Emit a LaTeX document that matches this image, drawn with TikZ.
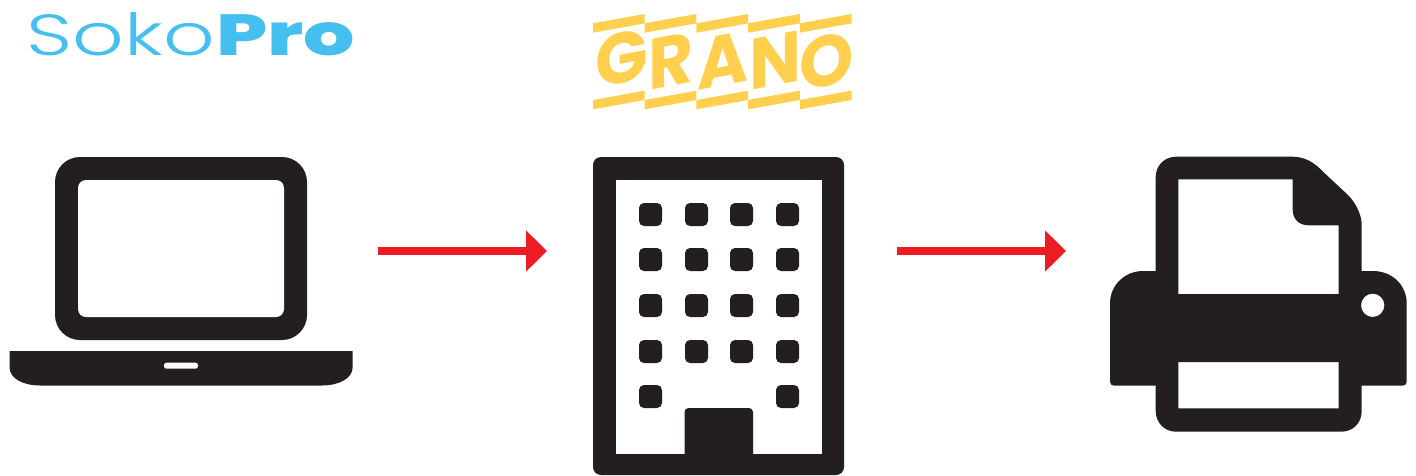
\documentclass[tikz,border=0pt]{standalone}
\usepackage{fontspec}
\usetikzlibrary{arrows.meta}
\newfontfamily\sokolight[FakeStretch=1.39]{Poppins Light}
\newfontfamily\sokobold[FakeStretch=1.39]{Poppins ExtraBold}
\newfontfamily\granofont[FakeStretch=.96]{Poppins Bold}
\definecolor{ink}{HTML}{231F20}
\definecolor{flowred}{HTML}{ED1C24}
\definecolor{sokoblue}{HTML}{44BFEF}
\definecolor{granoyellow}{HTML}{FFCF4D}
\tikzset{
  icon/.style={fill=ink,draw=none,even odd rule},
  win/.style={fill=ink,draw=none,rounded corners=5pt},
  band/.style={fill=granoyellow,draw=none},
  flow/.style={draw=flowred,line width=8pt,-{Triangle[length=21pt,width=40pt,fill=flowred]}},
  letter/.style={text=granoyellow,inner sep=0pt,anchor=base west,transform shape,
    font=\granofont\fontsize{72}{72}\selectfont},
}
\begin{document}
\begin{tikzpicture}[x=1pt,y=-1pt]
\useasboundingbox (0,0) rectangle (1416,475);
% SokoPro
\node[inner sep=0pt,anchor=base west,text=sokoblue] (soko) at (26.5,55)
  {{\sokolight\fontsize{58}{58}\selectfont Soko}\hspace{1pt}{\sokobold\fontsize{58}{58}\selectfont Pro}};
% Grano bands
\foreach \i in {0,1,2,3,4}{
  \fill[band,shift={(593+51.7*\i,0)}] (0,23.3) -- (51.7,14) -- (51.7,23.3) -- (0,32.7) -- cycle;
  \fill[band,shift={(593+51.7*\i,0)}] (0,100) -- (51.7,90.7) -- (51.7,100) -- (0,109.3) -- cycle;
}
% Grano letters
\node[letter,cm={1,.19,0,1,(595,89)}] (g1) {G};
\node[letter,cm={1,.19,0,1,(648,91)}] (g2) {R};
\node[letter,cm={1,.19,0,1,(697,91)}] (g3) {A};
\node[letter,cm={1,.19,0,1,(749,91)}] (g4) {N};
\node[letter,cm={1,.19,0,1,(799,91.5)}] (g5) {O};
% Laptop
\fill[icon,rounded corners=25pt] (55,157) rectangle (307,340);
\fill[white,rounded corners=8pt] (78,180) rectangle (284,317);
\fill[icon] (9.5,351) -- (352.7,351) -- (352.7,367)
  .. controls (352.7,379) and (338,385.5) .. (322,385.5) -- (40,385.5)
  .. controls (24,385.5) and (9.5,379) .. (9.5,367) -- cycle;
\fill[white,rounded corners=2.5pt] (164,362.7) rectangle (198,368.7);
% Building
\fill[icon,rounded corners=8pt] (593,157) rectangle (844,475);
\fill[white] (616,180) rectangle (822,454);
\fill[icon,rounded corners=4pt] (684.5,462) -- (684.5,408) -- (753,408) -- (753,462) -- cycle;
\foreach \y in {203,248,294,340}
  \foreach \x in {639,685,730,776}
    \fill[win] (\x,\y) rectangle +(23,23);
\fill[win] (639,385) rectangle +(23,23);
\fill[win] (776,385) rectangle +(23,23);
% Printer
\fill[icon] (1155.7,177)
  .. controls (1155.7,165) and (1165,156.7) .. (1176,156.7) -- (1293,156.7)
  .. controls (1305,156.7) and (1315,163) .. (1323,171.7) -- (1348,195)
  .. controls (1356,203) and (1361.7,215) .. (1361.7,225) -- (1361.7,271) -- (1373,271)
  .. controls (1392,271) and (1406.7,285) .. (1406.7,303.3) -- (1406.7,381.7)
  .. controls (1406.7,384) and (1405,385.7) .. (1403,385.7) -- (1361.7,385.7) -- (1361.7,411)
  .. controls (1361.7,423) and (1353,431.7) .. (1341,431.7) -- (1176,431.7)
  .. controls (1165,431.7) and (1155.7,423) .. (1155.7,411) -- (1155.7,385.7) -- (1114,385.7)
  .. controls (1112,385.7) and (1110,384) .. (1110,381.7) -- (1110,303.3)
  .. controls (1110,285) and (1125,271) .. (1143,271) -- (1155.7,271) -- cycle
  (1178.3,179.3) -- (1292.7,179.3) -- (1292.7,210)
  .. controls (1292.7,219) and (1299,225.3) .. (1308.3,225.3) -- (1338.7,225.3)
  -- (1338.7,294) -- (1178.3,294) -- cycle
  (1178.3,362) rectangle (1338.7,408.3)
  (1372.7,305.3) circle (11.7);
% Arrows
\coordinate (a1s) at (378,251);
\coordinate (a1e) at (547,251);
\coordinate (a2s) at (897,251);
\coordinate (a2e) at (1066,251);
\draw[flow] (a1s) -- (a1e);
\draw[flow] (a2s) -- (a2e);
\end{tikzpicture}
\end{document}
